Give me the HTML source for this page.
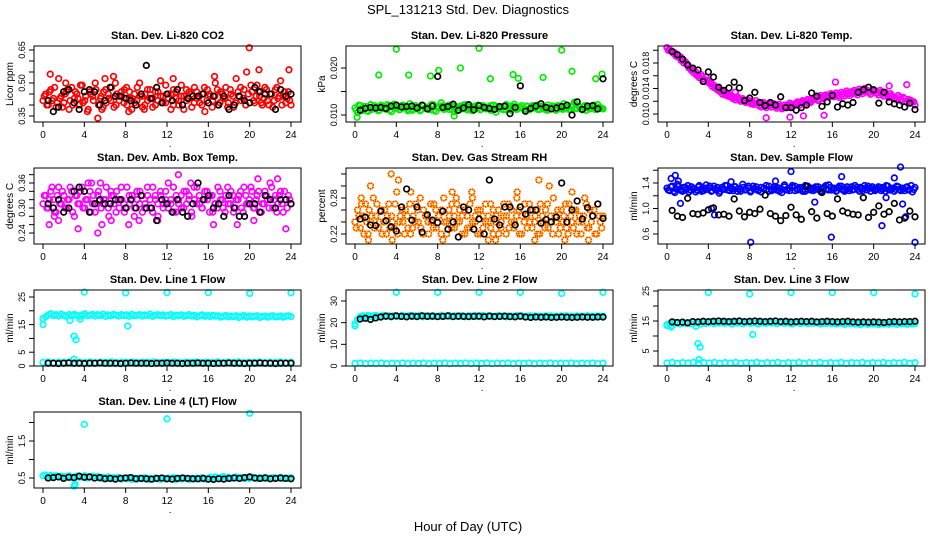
<!DOCTYPE html>
<html><head><meta charset="utf-8"><style>
html,body{margin:0;padding:0;background:#fff;}
svg{display:block;font-family:"Liberation Sans",Arial,sans-serif;}
</style></head><body>
<svg id="chart" width="936" height="540" viewBox="0 0 936 540" xmlns="http://www.w3.org/2000/svg">
<rect x="0" y="0" width="936" height="540" fill="#fff"/>
<text x="468" y="14" font-size="13" text-anchor="middle">SPL_131213  Std. Dev. Diagnostics</text>
<text x="468" y="531" font-size="13" text-anchor="middle">Hour of Day (UTC)</text>
</svg>
<script>
// ---- data ----
const xTicks = [0,4,8,12,16,20,24];
// Panel 1: CO2 (ppm)
const co2Main = [0.42,0.45,0.40,0.47,0.43,0.39,0.52,0.44,0.41,0.46,0.38,0.48,0.43,0.45,0.40,0.49,0.42,0.37,0.46,0.44,0.50,0.34,0.43,0.39,0.47,0.45,0.42,0.53,0.40,0.44,0.46,0.41,0.48,0.43,0.38,0.45,0.42,0.50,0.44,0.40,0.47,0.43,0.39,0.46,0.42,0.51,0.44,0.41,0.45,0.38,0.47,0.43,0.40,0.49,0.44,0.42,0.46,0.39,0.48,0.43,0.41,0.45,0.37,0.47,0.44,0.42,0.50,0.40,0.46,0.43,0.48,0.41,0.45,0.39,0.52,0.44,0.42,0.47,0.55,0.66,0.46,0.41,0.49,0.44,0.40,0.48,0.42,0.45,0.39,0.47,0.43,0.51,0.44,0.41,0.46,0.40];
const co2Main2 = [0.44,0.40,0.46,0.42,0.48,0.41,0.43,0.39,0.45,0.47,0.42,0.40,0.46,0.43,0.49,0.41,0.44,0.38,0.45,0.42,0.47,0.40,0.44,0.46,0.41,0.43,0.48,0.39,0.45,0.42,0.44,0.47,0.40,0.46,0.43,0.41,0.48,0.44,0.39,0.45,0.42,0.47,0.43,0.40,0.46,0.44,0.41,0.49,0.43,0.45,0.40,0.46,0.42,0.44,0.38,0.47,0.43,0.45,0.41,0.46,0.44,0.40,0.48,0.42,0.45,0.39,0.44,0.47,0.41,0.45,0.43,0.39,0.47,0.44,0.41,0.46,0.48,0.43,0.40,0.45,0.49,0.42,0.44,0.46,0.41,0.43,0.47,0.40,0.45,0.42,0.48,0.44,0.40,0.46,0.43,0.42];
const co2OutT = [0.7,5.7,6.0,8.3,9.8,12.6,16.6,20.9,23.8,2.2,7.0];
const co2OutV = [0.54,0.38,0.52,0.37,0.38,0.52,0.53,0.56,0.56,0.50,0.50];
const co2Black = [0.42,0.37,0.39,0.46,0.47,0.41,0.38,0.46,0.47,0.46,0.40,0.42,0.48,0.44,0.44,0.43,0.42,0.40,0.45,0.58,0.43,0.48,0.41,0.45,0.42,0.47,0.40,0.43,0.44,0.44,0.45,0.41,0.44,0.40,0.44,0.38,0.40,0.44,0.42,0.41,0.48,0.46,0.45,0.45,0.38,0.47,0.44,0.45];
const co2Ticks = [0.35,0.40,0.45,0.50,0.55,0.60,0.65];
const co2Labels = ["0.35","","","0.50","","","0.65"];
// Panel 2: Pressure (x 0.001 kPa)
const presMain = [11.5,10.5,12,11,11.8,10.8,12.2,11.3,11.6,10.9,12.1,11.4,11.2,11.9,10.7,12.3,11.5,11.1,11.9,11.8,11.2,12.4,11,11.6,11.3,10.9,12,11.5,11.7,11.1,12.2,10.8,11.6,12.6,11.4,11.9,11.2,12,10.7,11.5,11.8,11.3,12.2,11.1,11.6,10.9,11.9,11.4,11.2,12,11.5,11.7,11,12.1,10.6,11.6,11.3,11.8,11.1,11.9,11.4,12.3,11.2,11.7,11.5,11,11.8,11.3,12,11.6,11.2,11.9,11.4,11.1,12.1,11.5,11.7,11,11.9,11.3,12.4,11.6,11.2,11.8,12.7,11.4,11.7,11.1,12,11.5,11.3,11.8,11.2,12.2,11.6,11.3];
const presMain2 = [11.0,12.1,11.4,11.8,10.9,11.6,11.2,12.0,11.5,11.1,11.9,11.3,12.2,11.0,11.7,11.4,11.9,11.2,12.1,11.5,10.9,11.8,11.3,12.0,11.6,11.1,11.9,11.4,11.2,12.2,11.0,11.7,11.5,11.9,11.2,11.6,12.1,11.3,11.8,11.0,11.6,12.0,11.4,11.9,11.2,11.7,11.5,12.1,11.1,11.8,11.3,11.6,12.0,11.2,11.9,11.4,11.7,11.1,12.2,11.5,11.0,11.8,11.4,11.6,12.0,11.3,11.9,11.1,11.7,11.5,12.1,11.2,11.8,11.4,11.0,11.6,11.9,11.3,12.0,11.5,11.2,11.8,11.6,11.1,12.2,11.4,11.9,11.3,11.7,11.0,11.8,11.5,12.1,11.2,11.6,11.4];
const presOutT = [4,12,20,2.3,5.2,7.3,8.1,10.2,13.1,15.3,15.8,18.2,21,23.3,23.9,0.2,9.6];
const presOutV = [24,24.2,23.8,18.5,18.5,18.3,19.5,20,17.7,18.6,17.8,18,19.3,17.7,18.7,9.5,9.8];
const presBlack = [11,11.4,11.6,11.5,11.6,11.4,11.9,12.1,11.7,11.8,11.9,11.5,12.1,11.3,11.9,18.2,11.6,11.8,12.3,11,11.5,12.2,11.1,12,11.6,11.4,11.2,11.8,11.9,10.3,11.6,16.2,10.8,11.4,11.9,12.4,11.6,11.3,11.5,11.8,12.1,10,12.8,11.2,11.9,12,11.3,17.7];
const presTicks = [10,15,20];
const presLabels = ["0.010","","0.020"];
// Panel 3: Li-820 Temp (x 0.001 C)
const tempMain = [20.4,20.1,19.8,19.6,19.3,19,18.6,18.2,17.6,17.2,16.9,16.6,16,16.2,15.5,15.8,15.2,14.8,14.5,14.2,13.8,13.6,13.4,13.2,13,12.8,12.6,12.7,12.3,12.4,12.1,12.2,12,11.8,12.1,11.7,11.4,11.8,11.3,11.6,11.4,11.6,11.2,11.5,11,11.4,11.3,11.7,11.1,11.5,11.8,11.4,11.9,11.6,12.1,11.8,12.2,12.5,12.1,12.6,12.4,12.8,12.6,13,12.7,13,12.6,13.1,12.8,13.3,12.9,13.2,13.4,13,13.6,13.2,13.7,13.4,13.1,13.5,13.3,13,13.4,12.8,13.1,12.6,12.9,12.4,12.2,12.6,12,12.4,11.8,12.2,11.9,11.4];
const tempMain2 = [20.0,19.9,19.5,19.1,18.9,18.4,18.0,17.9,17.2,16.8,16.4,16.1,15.7,15.9,15.1,15.3,14.8,14.3,14.1,13.8,13.5,13.1,13.0,12.8,12.7,12.4,12.2,12.4,12.0,12.1,11.8,11.9,11.6,11.5,11.7,11.3,11.1,11.5,11.0,11.3,11.1,11.4,10.9,11.2,10.8,11.1,11.0,11.4,11.3,11.6,11.9,11.7,12.1,11.9,12.3,12.0,12.4,12.7,12.3,12.9,12.6,13.0,12.8,13.2,13.0,13.3,12.9,13.4,13.1,13.6,13.2,13.5,13.7,13.3,13.9,13.5,14.0,13.7,13.4,13.8,13.6,13.3,13.7,13.1,13.4,12.9,13.2,12.7,12.5,12.9,12.3,12.6,12.0,12.3,12.1,11.9];
const tempOutT = [9.6,11.9,13.2,15.2,16.3,21.5,23.2,6.6,5.1];
const tempOutV = [9.4,9.5,9.7,9.8,15,14.4,14.6,13.4,13.6];
const tempBlack = [19.8,19.3,18.6,17.7,17.2,16.9,15.1,16.6,15.8,14.2,13.7,14.1,15,14.1,12.1,12.5,13.4,11.8,11.3,11.8,11.4,12.7,11,11,10.6,11,11.4,13.3,12.8,11.2,11.9,12.9,11.1,11.6,11.4,11.8,13.4,13.8,14.2,13.8,11.7,13.4,11.9,11.6,11.4,11.1,11.7,10.7];
const tempTicks = [10,12,14,16,18,20];
const tempLabels = ["0.010","","0.014","","0.018",""];
// Panel 4: Amb. Box Temp (C)
const boxMain = [0.31,0.33,0.30,0.34,0.32,0.29,0.35,0.31,0.33,0.30,0.32,0.34,0.28,0.33,0.31,0.35,0.30,0.32,0.34,0.31,0.29,0.33,0.36,0.31,0.32,0.30,0.34,0.33,0.29,0.32,0.35,0.31,0.30,0.33,0.32,0.28,0.34,0.31,0.33,0.30,0.35,0.32,0.29,0.33,0.31,0.34,0.30,0.32,0.36,0.31,0.29,0.33,0.32,0.30,0.34,0.31,0.33,0.28,0.32,0.35,0.31,0.30,0.34,0.32,0.33,0.29,0.31,0.35,0.32,0.30,0.33,0.31,0.34,0.29,0.32,0.33,0.30,0.35,0.31,0.32,0.34,0.30,0.33,0.29,0.31,0.34,0.32,0.36,0.30,0.33,0.31,0.34,0.29,0.32,0.33,0.31];
const boxMain2 = [0.33,0.30,0.32,0.35,0.29,0.33,0.31,0.34,0.30,0.32,0.35,0.29,0.33,0.31,0.34,0.30,0.32,0.36,0.29,0.33,0.31,0.34,0.30,0.32,0.35,0.28,0.33,0.31,0.34,0.30,0.32,0.29,0.35,0.31,0.33,0.30,0.32,0.34,0.29,0.31,0.33,0.30,0.35,0.32,0.28,0.33,0.31,0.34,0.30,0.32,0.35,0.29,0.31,0.33,0.30,0.34,0.32,0.29,0.35,0.31,0.33,0.30,0.32,0.34,0.29,0.33,0.31,0.30,0.34,0.32,0.29,0.35,0.31,0.33,0.30,0.32,0.34,0.29,0.33,0.31,0.35,0.30,0.32,0.34,0.29,0.31,0.33,0.30,0.35,0.32,0.29,0.33,0.31,0.34,0.30,0.32];
const boxOutT = [1.5,3.4,5.3,5.7,8.3,11.1,13.1,16.5,18.8,20.4,20.8,23.5,22.7,4.7,14.3,6.6,1.1,0.6,9.3];
const boxOutV = [0.27,0.25,0.24,0.26,0.26,0.27,0.38,0.26,0.26,0.27,0.37,0.25,0.37,0.36,0.36,0.27,0.28,0.26,0.27];
const boxBlack = [0.31,0.30,0.32,0.29,0.30,0.34,0.35,0.34,0.29,0.31,0.32,0.31,0.31,0.32,0.32,0.30,0.32,0.30,0.33,0.30,0.30,0.27,0.32,0.31,0.29,0.32,0.29,0.28,0.31,0.36,0.32,0.33,0.30,0.31,0.28,0.33,0.30,0.28,0.28,0.31,0.31,0.29,0.33,0.32,0.30,0.32,0.32,0.31];
const boxTicks = [0.24,0.26,0.28,0.30,0.32,0.34,0.36,0.38];
const boxLabels = ["0.24","","","0.30","","","0.36",""];
// Panel 5: Gas Stream RH (percent)
const rhMain = [0.24,0.26,0.23,0.25,0.27,0.22,0.24,0.28,0.25,0.23,0.26,0.24,0.22,0.27,0.25,0.23,0.29,0.24,0.26,0.22,0.25,0.27,0.23,0.24,0.26,0.28,0.22,0.25,0.24,0.27,0.23,0.26,0.25,0.22,0.28,0.24,0.26,0.23,0.25,0.27,0.24,0.22,0.26,0.25,0.23,0.28,0.24,0.26,0.22,0.25,0.27,0.24,0.23,0.26,0.25,0.22,0.24,0.27,0.25,0.23,0.26,0.24,0.28,0.22,0.25,0.27,0.23,0.24,0.26,0.25,0.22,0.27,0.24,0.26,0.23,0.25,0.28,0.24,0.22,0.26,0.25,0.23,0.27,0.24,0.26,0.22,0.25,0.24,0.28,0.23,0.26,0.25,0.22,0.27,0.24,0.25];
const rhMain2 = [0.23,0.25,0.27,0.22,0.24,0.26,0.25,0.23,0.27,0.24,0.22,0.26,0.25,0.23,0.24,0.27,0.22,0.25,0.24,0.26,0.23,0.22,0.25,0.27,0.24,0.23,0.26,0.25,0.22,0.24,0.27,0.23,0.25,0.26,0.24,0.22,0.25,0.27,0.23,0.24,0.26,0.25,0.22,0.23,0.27,0.24,0.25,0.22,0.26,0.23,0.24,0.25,0.27,0.22,0.24,0.26,0.23,0.25,0.22,0.27,0.24,0.23,0.25,0.26,0.22,0.24,0.25,0.27,0.23,0.24,0.26,0.22,0.25,0.23,0.27,0.24,0.22,0.25,0.26,0.23,0.24,0.27,0.22,0.25,0.23,0.26,0.24,0.22,0.25,0.27,0.23,0.24,0.26,0.22,0.25,0.23];
const rhOutT = [1.5,3.5,4.2,5.4,9.4,9.8,11.3,12.9,15.7,17.8,18.8,21,3.6,8.5,13.6,17.4,22.6,20.3,1.3,0.6];
const rhOutV = [0.30,0.32,0.31,0.29,0.29,0.28,0.29,0.21,0.29,0.31,0.30,0.29,0.21,0.21,0.21,0.21,0.21,0.21,0.21,0.28];
const rhBlack = [0.245,0.248,0.235,0.234,0.258,0.242,0.232,0.225,0.265,0.295,0.243,0.265,0.223,0.252,0.243,0.239,0.258,0.228,0.240,0.215,0.265,0.260,0.228,0.245,0.220,0.310,0.245,0.235,0.265,0.265,0.235,0.265,0.253,0.260,0.260,0.238,0.244,0.240,0.248,0.305,0.240,0.260,0.275,0.245,0.264,0.250,0.270,0.246];
const rhTicks = [0.22,0.24,0.26,0.28,0.30,0.32];
const rhLabels = ["0.22","","","0.28","",""];
// Panel 6: Sample Flow (ml/min)
const flowMain = [1.32,1.28,1.35,1.25,1.38,1.30,1.27,1.33,1.36,1.29,1.31,1.26,1.34,1.30,1.28,1.37,1.32,1.27,1.35,1.29,1.24,1.33,1.30,1.36,1.28,1.31,1.34,1.27,1.30,1.38,1.29,1.32,1.26,1.35,1.30,1.28,1.33,1.31,1.36,1.27,1.30,1.34,1.29,1.32,1.25,1.37,1.30,1.28,1.33,1.35,1.29,1.31,1.27,1.36,1.30,1.32,1.28,1.34,1.30,1.26,1.33,1.31,1.37,1.29,1.32,1.28,1.35,1.30,1.27,1.34,1.31,1.29,1.36,1.30,1.33,1.28,1.32,1.35,1.27,1.31,1.30,1.34,1.28,1.33,1.36,1.29,1.31,1.27,1.35,1.30,1.32,1.28,1.34,1.30,1.26,1.33];
const flowMain2 = [1.29,1.34,1.27,1.31,1.35,1.28,1.33,1.30,1.26,1.34,1.31,1.29,1.36,1.27,1.32,1.30,1.35,1.28,1.31,1.33,1.27,1.30,1.36,1.29,1.32,1.28,1.34,1.31,1.27,1.33,1.30,1.35,1.28,1.31,1.34,1.29,1.26,1.32,1.30,1.35,1.28,1.31,1.33,1.27,1.30,1.34,1.29,1.32,1.36,1.28,1.31,1.33,1.30,1.27,1.35,1.29,1.32,1.30,1.34,1.28,1.31,1.36,1.29,1.33,1.30,1.27,1.32,1.35,1.29,1.31,1.28,1.34,1.30,1.33,1.27,1.31,1.36,1.29,1.32,1.34,1.28,1.31,1.33,1.30,1.27,1.35,1.29,1.32,1.30,1.34,1.28,1.31,1.33,1.29,1.36,1.30];
const flowOutT = [0.4,0.8,1.1,1.3,4.3,4.6,8.1,14.3,12,15.9,20.8,22,22.6,22.8,23.1,24,16.9,21.2,6.2,10.5];
const flowOutV = [1.47,1.52,1.43,1.08,1.00,0.90,0.47,1.10,1.58,0.55,0.73,1.48,1.65,1.07,0.87,0.47,1.50,1.17,1.42,1.43];
const flowBlack = [0.97,0.88,0.86,1.16,0.92,0.91,0.93,0.98,1.01,0.90,0.91,0.88,1.15,0.96,0.87,0.94,0.92,0.99,1.21,0.92,0.88,0.81,0.89,1.02,0.90,0.83,1.35,0.95,0.85,1.25,0.92,0.88,1.15,0.96,0.93,0.91,0.90,1.17,0.86,0.94,1.04,0.91,0.95,1.08,0.82,0.85,0.96,0.87];
const flowTicks = [0.6,0.8,1.0,1.2,1.4,1.6];
const flowLabels = ["0.6","","1.0","","1.4",""];
// Panel 7: Line 1 Flow
const l1Main = [17.2,17.8,18.5,18.9,18.3,18.6,18.1,18.8,18.4,17.9,18.6,18.2,18.7,18.3,18.0,18.5,18.9,18.2,18.4,18.7,18.1,18.6,18.3,18.8,18.0,18.5,18.2,18.7,18.4,18.1,18.6,18.3,18.5,18.0,18.7,18.2,18.4,18.6,18.1,18.5,18.3,18.8,18.0,18.4,18.6,18.2,18.5,18.1,18.3,18.6,17.9,18.4,18.2,18.5,18.0,18.3,18.6,18.1,18.4,17.8,18.2,18.5,18.0,18.3,17.9,18.4,18.1,18.2,17.7,18.0,18.3,17.8,18.1,17.9,18.2,17.6,18.0,18.3,17.7,18.1,17.8,18.0,18.2,17.6,17.9,18.1,17.7,18.0,18.2,17.8,17.9,18.1,17.7,18.0,18.2,17.9];
const l1Low = [1.3,1.5,1.2,1.4,1.3,1.5,1.2,1.4,1.3,1.5,1.2,1.4,1.3,1.5,1.2,1.4,1.3,1.5,1.2,1.4,1.3,1.5,1.2,1.4,1.3,1.5,1.2,1.4,1.3,1.5,1.2,1.4,1.3,1.5,1.2,1.4,1.3,1.5,1.2,1.4,1.3,1.5,1.2,1.4,1.3,1.5,1.2,1.4];
const l1OutT = [0,2.6,3,3.2,3,3.6,4,8,8.2,12,16,20,24];
const l1OutV = [15,16.5,10.8,9.5,2.5,17,26.8,26.5,14.5,26.6,26.6,26.3,26.5];
const l1Black = [1.0,1.0,0.9,1.0,1.1,1.0,1.0,0.9,1.0,1.0,1.1,1.0,1.0,1.0,0.9,1.0,1.1,1.0,1.0,1.0,0.9,1.0,1.0,1.1,1.0,1.0,0.9,1.0,1.0,1.1,1.0,1.0,0.9,1.0,1.0,1.1,1.0,1.0,0.9,1.0,1.0,1.1,1.0,1.0,0.9,1.0,1.0,1.0];
const l1Ticks = [0,5,10,15,20,25];
const l1Labels = ["0","5","","15","","25"];
// Panel 8: Line 2 Flow
const l2Main = [19.5,21.5,22.8,23.2,22.9,23.4,22.7,23.1,23.3,22.8,23.0,23.4,22.9,23.2,22.7,23.3,23.0,22.8,23.4,23.1,22.9,23.3,22.8,23.2,23.0,23.4,22.7,23.1,23.3,22.9,23.2,22.8,23.0,23.4,22.9,23.1,23.3,22.8,23.2,23.0,22.9,23.3,22.7,23.1,23.2,22.9,23.4,22.8,23.0,23.3,22.9,23.1,23.2,22.8,23.0,23.3,22.9,23.1,22.7,23.2,23.0,22.8,23.3,22.9,23.1,22.7,23.0,23.2,22.8,23.1,22.9,23.0,22.7,23.2,22.9,23.1,22.8,23.0,22.7,23.1,22.9,23.2,22.8,23.0,22.7,23.1,22.9,23.0,22.8,23.2,22.9,23.0,22.7,23.1,22.9,23.0];
const l2Low = [1.2,1.4,1.1,1.3,1.2,1.4,1.1,1.3,1.2,1.4,1.1,1.3,1.2,1.4,1.1,1.3,1.2,1.4,1.1,1.3,1.2,1.4,1.1,1.3,1.2,1.4,1.1,1.3,1.2,1.4,1.1,1.3,1.2,1.4,1.1,1.3,1.2,1.4,1.1,1.3,1.2,1.4,1.1,1.3,1.2,1.4,1.1,1.3];
const l2OutT = [0,4,8,12,16,20,24];
const l2OutV = [18.5,34,34,34,34,33.5,34];
const l2Black = [21.7,22.0,21.5,22.2,22.6,23.0,22.8,23.1,22.9,22.7,23.0,22.8,23.1,22.9,23.0,22.8,22.9,23.1,22.8,23.0,22.9,22.8,22.9,23.0,22.7,23.0,22.8,22.9,23.0,22.8,22.7,23.0,22.6,22.4,22.6,22.5,22.6,22.4,22.5,22.6,22.5,22.4,22.5,22.6,22.5,22.5,22.6,22.6];
const l2Ticks = [0,10,20,30];
const l2Labels = ["0","10","20","30"];
// Panel 9: Line 3 Flow
const l3Main = [13.8,14.2,13.5,14.5,14.3,14.0,14.6,14.2,14.4,14.1,14.7,14.3,14.5,14.0,14.6,14.2,14.4,14.8,14.1,14.5,14.3,14.7,14.2,14.6,14.4,14.0,14.5,14.3,14.7,14.1,14.4,14.6,14.2,14.5,14.3,14.0,14.6,14.4,14.2,14.7,14.3,14.5,14.1,14.4,14.6,14.2,14.5,14.3,14.0,14.4,14.6,14.2,14.3,14.5,14.1,14.4,14.2,14.6,14.3,14.0,14.4,14.2,14.5,14.1,14.3,14.0,14.4,14.2,13.9,14.3,14.1,14.4,14.0,14.2,13.8,14.1,14.3,13.9,14.2,14.0,14.3,13.8,14.1,14.0,14.2,13.9,14.1,14.3,13.9,14.0,14.2,14.1,13.9,14.2,14.0,14.1];
const l3Low = [1.0,1.2,0.9,1.1,1.0,1.2,0.9,1.1,1.0,1.2,0.9,1.1,1.0,1.2,0.9,1.1,1.0,1.2,0.9,1.1,1.0,1.2,0.9,1.1,1.0,1.2,0.9,1.1,1.0,1.2,0.9,1.1,1.0,1.2,0.9,1.1,1.0,1.2,0.9,1.1,1.0,1.2,0.9,1.1,1.0,1.2,0.9,1.1];
const l3OutT = [0,0.4,3,3.2,3.1,4,8,8.3,12,16,20,24,2.8];
const l3OutV = [13.5,13,7.5,6.3,2.2,24.5,24,10.5,24.5,24.5,24.5,24,13.2];
const l3Black = [14.7,14.5,14.6,14.4,14.8,14.7,14.9,14.8,14.9,15.0,14.9,14.8,14.9,15.0,14.8,14.9,15.0,14.9,14.8,14.9,15.0,14.8,14.9,14.7,14.8,14.9,14.8,14.9,14.7,14.8,14.9,14.8,14.7,14.8,14.9,14.7,14.6,14.7,14.6,14.7,14.6,14.5,14.7,14.8,14.7,14.8,14.8,14.9];
const l3Ticks = [0,5,10,15,20,25];
const l3Labels = ["","5","","15","","25"];
// Panel 10: Line 4 (LT) Flow
const l4Main = [0.56,0.58,0.55,0.57,0.54,0.56,0.53,0.55,0.52,0.54,0.56,0.51,0.53,0.55,0.52,0.54,0.56,0.50,0.53,0.55,0.51,0.54,0.49,0.52,0.50,0.53,0.48,0.51,0.49,0.52,0.47,0.50,0.48,0.51,0.46,0.49,0.47,0.50,0.48,0.51,0.46,0.49,0.47,0.50,0.48,0.46,0.49,0.47,0.50,0.48,0.51,0.46,0.49,0.47,0.50,0.48,0.46,0.49,0.47,0.50,0.48,0.51,0.47,0.49,0.52,0.50,0.53,0.49,0.51,0.54,0.50,0.52,0.49,0.51,0.53,0.50,0.52,0.48,0.51,0.49,0.52,0.50,0.48,0.51,0.49,0.52,0.50,0.48,0.51,0.49,0.50,0.52,0.48,0.50,0.49,0.51];
const l4OutT = [3,3.1,4,12,20];
const l4OutV = [0.28,0.33,1.95,2.1,2.25];
const l4Black = [0.50,0.51,0.53,0.49,0.52,0.51,0.55,0.52,0.53,0.50,0.51,0.48,0.49,0.47,0.49,0.50,0.51,0.48,0.49,0.48,0.47,0.49,0.50,0.48,0.47,0.49,0.50,0.49,0.48,0.48,0.49,0.47,0.46,0.48,0.47,0.49,0.50,0.49,0.51,0.53,0.50,0.49,0.50,0.48,0.49,0.50,0.49,0.48];
const l4Ticks = [0.5,1.0,1.5,2.0];
const l4Labels = ["0.5","","1.5",""];

// ---- layout ----
const svg = document.getElementById('chart');
const NS = 'http://www.w3.org/2000/svg';
function mk(tag, attrs, parent) {
  const e = document.createElementNS(NS, tag);
  for (const k in attrs) e.setAttribute(k, attrs[k]);
  (parent || svg).appendChild(e);
  return e;
}
const panels = [
 {key:'co2',title:'Stan. Dev. Li-820 CO2',ylab:'Licor ppm',col:0,row:0,a:[0.35,116],b:[0.65,50],main:co2Main,main2:co2Main2,oT:co2OutT,oV:co2OutV,black:co2Black,ticks:co2Ticks,labels:co2Labels,color:'#ff0000'},
 {key:'pressure',title:'Stan. Dev. Li-820 Pressure',ylab:'kPa',col:1,row:0,a:[10,115],b:[20,68],main:presMain,main2:presMain2,oT:presOutT,oV:presOutV,black:presBlack,ticks:presTicks,labels:presLabels,color:'#00ee00'},
 {key:'li820-temp',title:'Stan. Dev. Li-820 Temp.',ylab:'degrees C',col:2,row:0,a:[10,114],b:[18,63],main:tempMain,main2:tempMain2,oT:tempOutT,oV:tempOutV,black:tempBlack,ticks:tempTicks,labels:tempLabels,color:'#ff00ff'},
 {key:'box-temp',title:'Stan. Dev. Amb. Box Temp.',ylab:'degrees C',col:0,row:1,a:[0.24,233],b:[0.36,183],main:boxMain,main2:boxMain2,oT:boxOutT,oV:boxOutV,black:boxBlack,ticks:boxTicks,labels:boxLabels,color:'#ff00ff'},
 {key:'rh',title:'Stan. Dev. Gas Stream RH',ylab:'percent',col:1,row:1,a:[0.22,234],b:[0.28,198],main:rhMain,main2:rhMain2,oT:rhOutT,oV:rhOutV,black:rhBlack,ticks:rhTicks,labels:rhLabels,color:'#ffa500',rh:true},
 {key:'sample-flow',title:'Stan. Dev. Sample Flow',ylab:'ml/min',col:2,row:1,a:[0.6,234],b:[1.4,183],main:flowMain,main2:flowMain2,oT:flowOutT,oV:flowOutV,black:flowBlack,ticks:flowTicks,labels:flowLabels,color:'#0000ff'},
 {key:'line1',title:'Stan. Dev. Line 1 Flow',ylab:'ml/min',col:0,row:2,a:[0,366],b:[25,297],main:l1Main,low:l1Low,oT:l1OutT,oV:l1OutV,black:l1Black,ticks:l1Ticks,labels:l1Labels,color:'#00ffff'},
 {key:'line2',title:'Stan. Dev. Line 2 Flow',ylab:'ml/min',col:1,row:2,a:[0,366],b:[30,301],main:l2Main,low:l2Low,oT:l2OutT,oV:l2OutV,black:l2Black,ticks:l2Ticks,labels:l2Labels,color:'#00ffff'},
 {key:'line3',title:'Stan. Dev. Line 3 Flow',ylab:'ml/min',col:2,row:2,a:[0,366],b:[25,291],main:l3Main,low:l3Low,oT:l3OutT,oV:l3OutV,black:l3Black,ticks:l3Ticks,labels:l3Labels,color:'#00ffff'},
 {key:'line4',title:'Stan. Dev. Line 4 (LT) Flow',ylab:'ml/min',col:0,row:3,a:[0.5,478],b:[1.5,441],main:l4Main,oT:l4OutT,oV:l4OutV,black:l4Black,ticks:l4Ticks,labels:l4Labels,color:'#00ffff'}
];
const R = 2.8;
panels.forEach(p => {
  const ox = p.col * 312, top = 46 + p.row * 122, bot = top + 76;
  const left = 34 + ox, right = 301 + ox;
  const xs = t => 43 + ox + t * (248 / 24);
  const ys = v => p.a[1] + (v - p.a[0]) * (p.b[1] - p.a[1]) / (p.b[0] - p.a[0]);
  const g = mk('g', {});
  
  
  const ttl = mk('text', {x:(left+right)/2, y:top-7, 'font-size':11, 'font-weight':'bold', 'text-anchor':'middle'}, g);
  ttl.textContent = p.title;
  
  
  const yl = mk('text', {x:0, y:0, 'font-size':10, 'text-anchor':'middle', transform:`translate(${left-21},${(top+bot)/2}) rotate(-90)`}, g);
  yl.textContent = p.ylab;
  
  
  const dot = mk('text', {x:xs(12.3), y:bot+25, 'font-size':10, 'text-anchor':'middle'}, g);
  dot.textContent = '.';
  
  
  xTicks.forEach(t => {
    mk('line', {x1:xs(t), x2:xs(t), y1:bot, y2:bot+5, stroke:'#000'}, g);
    const tl = mk('text', {x:xs(t), y:bot+16, 'font-size':10, 'text-anchor':'middle'}, g);
    tl.textContent = String(t);
    
    
  });
  p.ticks.forEach((v, i) => {
    mk('line', {x1:left-5, x2:left, y1:ys(v), y2:ys(v), stroke:'#000'}, g);
    if (p.labels[i]) {
      const tl = mk('text', {x:0, y:0, 'font-size':9, 'text-anchor':'middle', transform:`translate(${left-9},${ys(v)}) rotate(-90)`}, g);
      tl.textContent = p.labels[i];
      
      
    }
  });
  const marks = mk('g', {fill:'none', 'stroke-width':1.7}, g);
  
  
  let rhStyle = !!p.rh;
  const pt = (t, v, col) => {
    const y = ys(v);
    if (y < top - 2 || y > bot + 2) return;
    if (rhStyle) {
      mk('circle', {cx:xs(t), cy:y, r:R, stroke:'#ff2000'}, marks);
      const c = mk('circle', {cx:xs(t), cy:y, r:R, stroke:'#ffd000', 'stroke-dasharray':'1.2 1.2'}, marks);
      
      
    } else {
      const c = mk('circle', {cx:xs(t), cy:y, r:R, stroke:col}, marks);
      
      
    }
  };
  const n = p.main.length;
  p.main.forEach((v, i) => pt(i * 24 / (n - 1), v, p.color));
  if (p.main2) p.main2.forEach((v, i) => pt((i + 0.5) * 24 / p.main2.length, v, p.color));
  if (p.low) p.low.forEach((v, i) => pt(i * 24 / (p.low.length - 1), v, p.color));
  p.oT.forEach((t, i) => pt(t, p.oV[i], p.color));
  rhStyle = false;
  p.black.forEach((v, i) => pt(0.5 * (i + 1), v, '#000'));
  const box = mk('rect', {x:left, y:top, width:right-left, height:bot-top, fill:'none', stroke:'#000', 'stroke-width':1}, g);
  
  
});
</script>
</body></html>
